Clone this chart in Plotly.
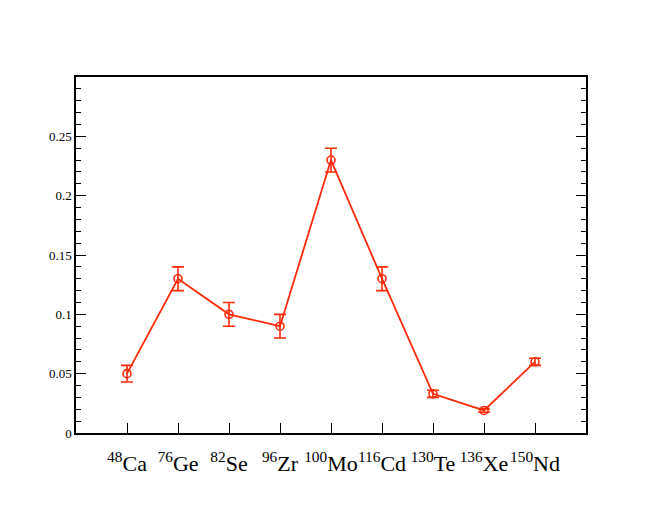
import plotly.graph_objects as go

# isotopes and values
isotopes = ['<sup>48</sup>Ca', '<sup>76</sup>Ge', '<sup>82</sup>Se', '<sup>96</sup>Zr',
            '<sup>100</sup>Mo', '<sup>116</sup>Cd', '<sup>130</sup>Te', '<sup>136</sup>Xe',
            '<sup>150</sup>Nd']
positions = [1, 2, 3, 4, 5, 6, 7, 8, 9]
values = [0.050, 0.130, 0.100, 0.090, 0.230, 0.130, 0.033, 0.019, 0.060]
errors = [0.007, 0.010, 0.010, 0.010, 0.010, 0.010, 0.003, 0.0015, 0.003]

y_ticks = [0, 0.05, 0.1, 0.15, 0.2, 0.25]
y_labels = ['0', '0.05', '0.1', '0.15', '0.2', '0.25']

red = '#ff2a0a'
serif = 'Liberation Serif, Times New Roman, serif'

fig = go.Figure()
fig.add_trace(go.Scatter(
    x=positions,
    y=values,
    mode='lines+markers',
    line=dict(color=red, width=1.8),
    marker=dict(symbol='circle-open', size=8, color=red, line=dict(width=1.6, color=red)),
    error_y=dict(type='data', array=errors, visible=True, color=red, thickness=1.6, width=6),
    showlegend=False,
))

# page body adds an 8px offset, so margins are shifted to compensate
fig.update_layout(
    width=660, height=510,
    margin=dict(l=68, r=82, t=69, b=85),
    plot_bgcolor='white',
    paper_bgcolor='white',
    font=dict(family=serif, color='black'),
)

fig.update_xaxes(
    range=[0, 10],
    tickvals=positions,
    ticktext=isotopes,
    tickangle=0,
    tickfont=dict(size=22, family=serif, color='black'),
    ticklabelstandoff=10,
    ticks='inside', ticklen=10, tickcolor='black', tickwidth=1,
    showline=True, linecolor='black', linewidth=1.5, mirror=True,
    showgrid=False, zeroline=False, automargin=False,
)
fig.update_yaxes(
    range=[0, 0.3],
    tickvals=y_ticks,
    ticktext=y_labels,
    tickfont=dict(size=13, family=serif, color='black'),
    ticks='inside', ticklen=10, tickcolor='black', tickwidth=1,
    minor=dict(dtick=0.01, ticks='inside', ticklen=5, tickcolor='black', tickwidth=1),
    showline=True, linecolor='black', linewidth=1.5, mirror='ticks',
    showgrid=False, zeroline=False, automargin=False,
)

fig.write_html("out.html")
